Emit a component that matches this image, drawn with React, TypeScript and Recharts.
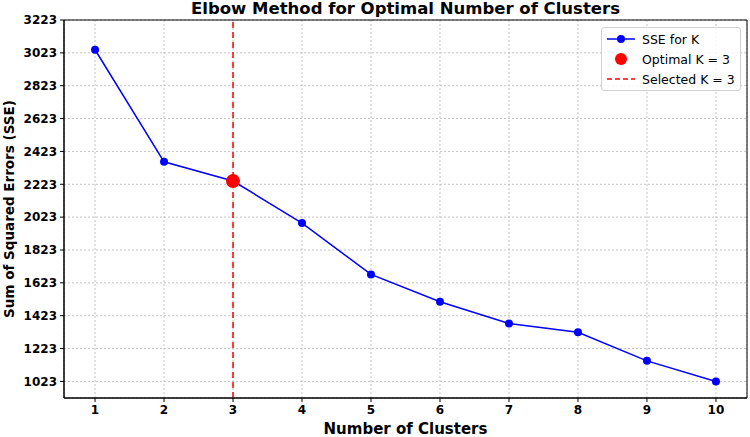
import React from 'react';
import {
  LineChart,
  Line,
  XAxis,
  YAxis,
  CartesianGrid,
  ReferenceLine,
  ReferenceArea,
} from 'recharts';

const clusters = [1, 2, 3, 4, 5, 6, 7, 8, 9, 10];
const sse = [3042, 2360, 2243, 1987, 1674, 1508, 1375, 1322, 1148, 1023];
const yTicks = [1023, 1223, 1423, 1623, 1823, 2023, 2223, 2423, 2623, 2823, 3023, 3223];
const optimalK = 3;

const data = clusters.map((k, i) => ({ k, sse: sse[i] }));

const FONT = '"DejaVu Sans", sans-serif';

// blue dots for every K, the chosen K gets the big red one on top
const renderDot = (props: any) => {
  const { cx, cy, payload, index } = props;
  if (payload.k === optimalK) {
    return <circle key={`dot-${index}`} cx={cx} cy={cy} r={7} fill="#ff0000" />;
  }
  return <circle key={`dot-${index}`} cx={cx} cy={cy} r={4} fill="#0000ff" />;
};

const renderYLabel = (props: any) => {
  const vb = props.viewBox || {};
  const cx = (vb.x || 0) + 9;
  const cy = (vb.y || 0) + (vb.height || 0) / 2;
  return (
    <text
      x={cx}
      y={cy}
      transform={`rotate(-90, ${cx}, ${cy})`}
      textAnchor="middle"
      dominantBaseline="central"
      style={{ fontFamily: FONT, fontWeight: 'bold', fontSize: 13.5, fill: '#000' }}
    >
      Sum of Squared Errors (SSE)
    </text>
  );
};

function ChartLegend() {
  return (
    <div
      style={{
        position: 'absolute',
        top: 27,
        left: 601,
        width: 140,
        height: 64,
        boxSizing: 'border-box',
        border: '1px solid #d0d0d0',
        borderRadius: 3,
        background: 'rgba(255,255,255,0.85)',
        padding: '1px 0 1px 4px',
        fontFamily: FONT,
        fontSize: 12.5,
        color: '#000',
        whiteSpace: 'nowrap',
      }}
    >
      <div style={{ display: 'flex', alignItems: 'center', height: 20 }}>
        <svg width={30} height={12}>
          <line x1={1} y1={6} x2={29} y2={6} stroke="#0000ff" strokeWidth={1.5} />
          <circle cx={15} cy={6} r={4} fill="#0000ff" />
        </svg>
        <span style={{ marginLeft: 6 }}>SSE for K</span>
      </div>
      <div style={{ display: 'flex', alignItems: 'center', height: 20 }}>
        <svg width={30} height={14}>
          <circle cx={15} cy={7} r={6} fill="#ff0000" />
        </svg>
        <span style={{ marginLeft: 6 }}>Optimal K = 3</span>
      </div>
      <div style={{ display: 'flex', alignItems: 'center', height: 20 }}>
        <svg width={30} height={12}>
          <line x1={1} y1={6} x2={29} y2={6} stroke="#ff0000" strokeWidth={1.5} strokeDasharray="5 3" />
        </svg>
        <span style={{ marginLeft: 6 }}>Selected K = 3</span>
      </div>
    </div>
  );
}

export default function App() {
  return (
    <div style={{ position: 'absolute', left: 0, top: 0, width: 750, height: 437, background: '#fff' }}>
      <div
        style={{
          position: 'absolute',
          top: 0,
          left: 64,
          width: 683,
          textAlign: 'center',
          fontFamily: FONT,
          fontWeight: 'bold',
          fontSize: 16.5,
          lineHeight: '18px',
          color: '#000',
        }}
      >
        Elbow Method for Optimal Number of Clusters
      </div>
      <LineChart
        width={750}
        height={437}
        data={data}
        margin={{ top: 20, right: 3, left: 0, bottom: 0 }}
      >
        <CartesianGrid stroke="#c4c4c4" strokeDasharray="2 2" />
        <XAxis
          dataKey="k"
          type="number"
          domain={[0.55, 10.45]}
          ticks={clusters}
          allowDataOverflow
          height={39}
          tickSize={4}
          tickMargin={3}
          axisLine={{ stroke: '#000' }}
          tickLine={{ stroke: '#000' }}
          tick={{ fontFamily: FONT, fontWeight: 'bold', fontSize: 12, fill: '#000' }}
          label={{
            value: 'Number of Clusters',
            position: 'insideBottom',
            offset: 3,
            style: { fontFamily: FONT, fontWeight: 'bold', fontSize: 15, fill: '#000' },
          }}
        />
        <YAxis
          type="number"
          domain={[922, 3223]}
          ticks={yTicks}
          allowDataOverflow
          width={64}
          tickSize={4}
          tickMargin={3}
          axisLine={{ stroke: '#000' }}
          tickLine={{ stroke: '#000' }}
          tick={{ fontFamily: FONT, fontWeight: 'bold', fontSize: 12, fill: '#000' }}
          label={{ content: renderYLabel }}
        />
        <ReferenceArea x1={0.55} x2={10.45} y1={922} y2={3223} fill="none" stroke="#000" strokeWidth={1} />
        <ReferenceLine x={optimalK} stroke="#ff0000" strokeWidth={1.5} strokeDasharray="6 4" />
        <Line
          type="linear"
          dataKey="sse"
          stroke="#0000ff"
          strokeWidth={1.5}
          dot={renderDot}
          activeDot={false}
          isAnimationActive={false}
        />
      </LineChart>
      <ChartLegend />
    </div>
  );
}
